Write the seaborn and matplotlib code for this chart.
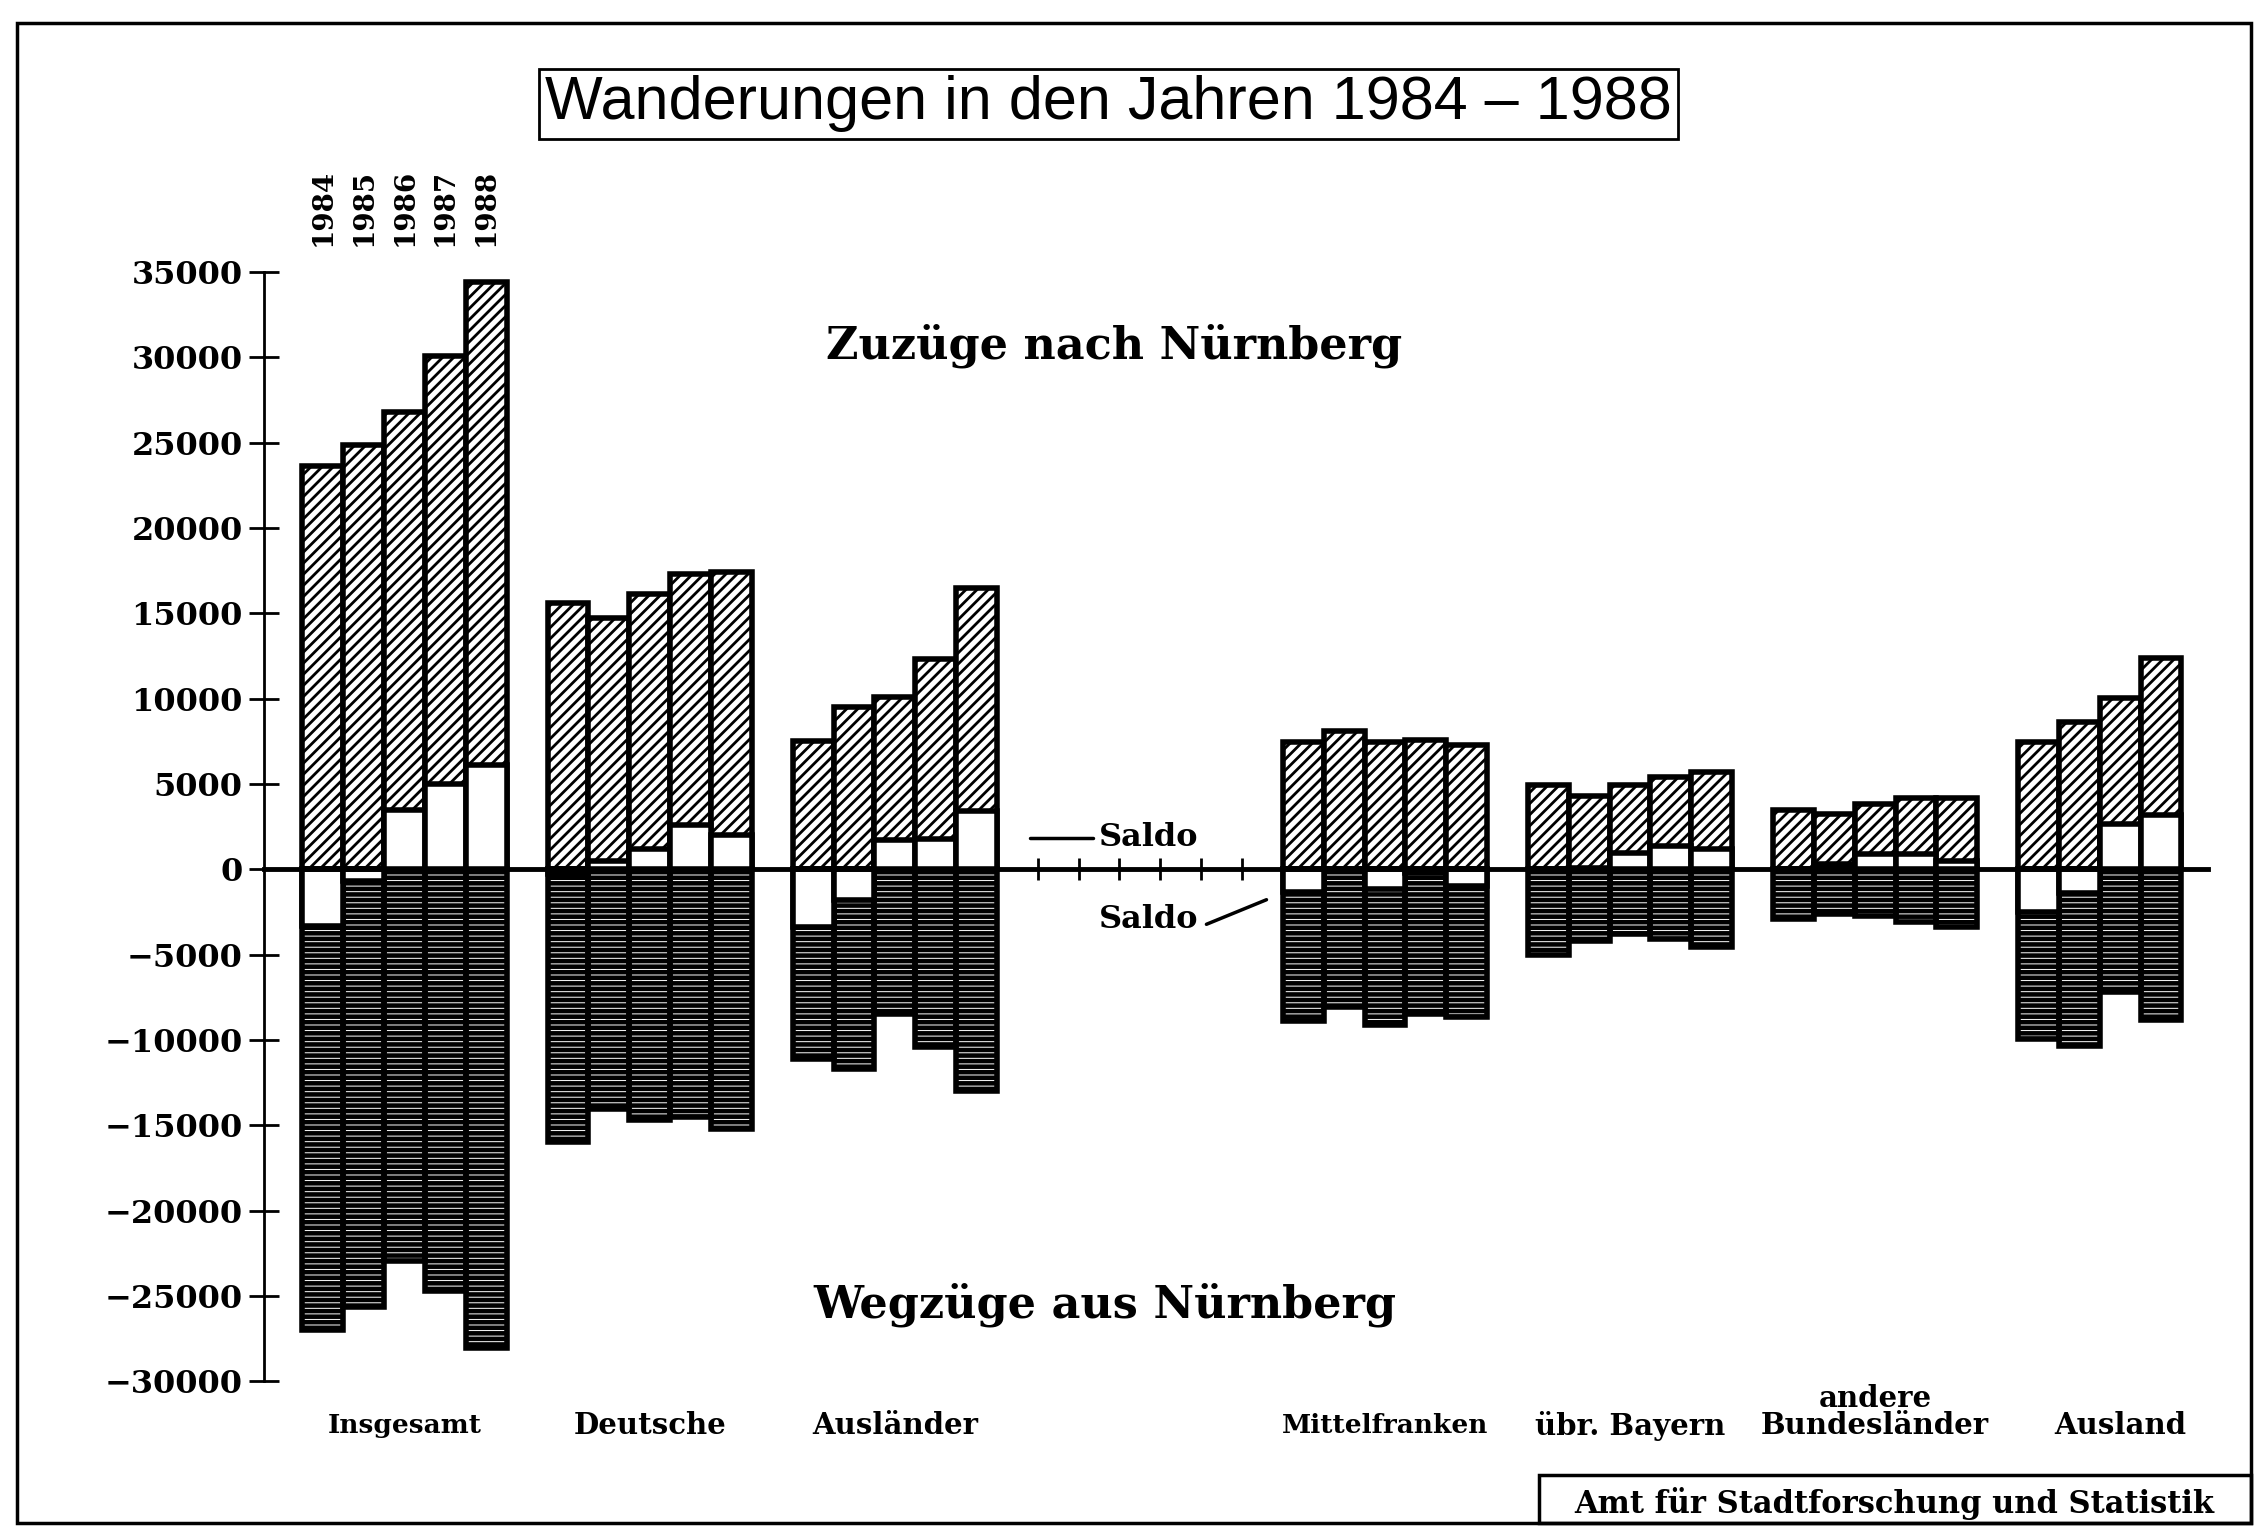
import numpy as np
import pandas as pd
import matplotlib
matplotlib.use("Agg")
import matplotlib.pyplot as plt
from matplotlib.patches import Rectangle
import seaborn as sns

years = ["1984", "1985", "1986", "1987", "1988"]
groups = ["Insgesamt", "Deutsche", "Ausländer", "Mittelfranken",
          "übr. Bayern", "Bundesländer", "Ausland"]

# Zuzüge nach Nürnberg, je Gruppe 1984..1988 (Ausland 1988 im Original abgeschnitten)
zuzuege = [
    [23600, 24850, 26800, 30100, 34400],
    [15600, 14750, 16100, 17300, 17400],
    [7500, 9500, 10100, 12300, 16500],
    [7450, 8100, 7450, 7600, 7300],
    [4950, 4300, 4950, 5400, 5700],
    [3450, 3250, 3850, 4200, 4200],
    [7450, 8650, 10050, 12400, np.nan],
]
# Wegzüge aus Nürnberg
wegzuege = [
    [27000, 25650, 22950, 24700, 28050],
    [16000, 14050, 14700, 14500, 15200],
    [11100, 11700, 8500, 10400, 13000],
    [8900, 8050, 9100, 8500, 8650],
    [5000, 4200, 3800, 4100, 4550],
    [2900, 2600, 2750, 3100, 3400],
    [9950, 10350, 7200, 8850, np.nan],
]
# Saldo (weisser Teil der Säulen)
saldo = [
    [-3300, -700, 3500, 5000, 6100],
    [-300, 500, 1200, 2600, 2000],
    [-3400, -1800, 1700, 1800, 3400],
    [-1300, 0, -1150, -200, -1000],
    [0, 100, 950, 1350, 1200],
    [0, 300, 900, 900, 500],
    [-2500, -1400, 2650, 3200, np.nan],
]

# slot where each group of five bars starts
group_start = [0, 6, 12, 24, 30, 36, 42]
label_size = [19, 21, 21, 19, 21, 21, 21]

rows = []
for g, start in enumerate(group_start):
    for i, yr in enumerate(years):
        rows.append({"pos": start + i, "group": groups[g], "year": yr,
                     "zu": zuzuege[g][i], "weg": -wegzuege[g][i], "saldo": saldo[g][i]})
df = pd.DataFrame(rows).dropna()

sns.set_style("white")
plt.rcParams["font.family"] = ["DejaVu Serif"]
plt.rcParams["font.weight"] = "bold"
for key in ["text.color", "axes.labelcolor", "xtick.color", "ytick.color", "axes.edgecolor"]:
    plt.rcParams[key] = "black"

fig = plt.figure(figsize=(22.63, 15.29), dpi=100)
ax = fig.add_axes([0.1167, 0.0965, 0.859, 0.7257])

common = dict(data=df, x="pos", native_scale=True, width=1, errorbar=None,
              saturation=1, ax=ax)
# Zuzüge: diagonal schraffiert
with plt.rc_context({"hatch.linewidth": 2.0}):
    sns.barplot(y="zu", color="white", edgecolor="black", linewidth=4, hatch="///", **common)
# Wegzüge: dunkel, fein horizontal schraffiert
with plt.rc_context({"hatch.linewidth": 0.7}):
    sns.barplot(y="weg", color="black", edgecolor="white", linewidth=0, hatch="---", **common)
sns.barplot(y="weg", fill=False, color="black", linewidth=4, **common)
# Saldo: weiss
sns.barplot(y="saldo", color="white", edgecolor="black", linewidth=4, **common)

ax.set_xlabel("")
ax.set_ylabel("")
ax.set_xlim(-1.44, 46.15)
ax.set_ylim(-30000, 35000)
ax.spines[["top", "right"]].set_visible(False)
ax.spines["bottom"].set_position(("data", 0))
ax.spines["bottom"].set_linewidth(3.5)
ax.spines["left"].set_linewidth(2)
ax.set_yticks(range(-30000, 35001, 5000))
ax.set_xticks([17.5 + i for i in range(6)])
ax.tick_params(axis="x", bottom=True, direction="inout", length=16, width=2,
               labelbottom=False)
ax.tick_params(axis="y", left=True, direction="inout", length=21, width=2, pad=5,
               labelsize=23)

# Jahreszahlen über der ersten Gruppe
for i, yr in enumerate(years):
    ax.text(i, 36500, yr, rotation=90, ha="center", va="bottom", fontsize=20,
            clip_on=False)

ax.text(19.36, 30660, "Zuzüge nach Nürnberg", ha="center", va="center", fontsize=32)
ax.text(19.15, -25500, "Wegzüge aus Nürnberg", ha="center", va="center", fontsize=32)

# Saldo-Hinweise
ax.plot([17.3, 18.85], [1860, 1860], color="black", lw=2.5, clip_on=False)
ax.text(19.0, 1860, "Saldo", ha="left", va="center", fontsize=23)
ax.text(19.0, -2960, "Saldo", ha="left", va="center", fontsize=23)
ax.plot([21.63, 23.1], [-3220, -1780], color="black", lw=2.5, clip_on=False)

# Gruppenbeschriftung
for g, start in enumerate(group_start):
    ax.text(start + 2, -32600, groups[g], ha="center", va="center",
            fontsize=label_size[g], clip_on=False)
ax.text(group_start[5] + 2, -31000, "andere", ha="center", va="center", fontsize=21,
        clip_on=False)

fig.text(0.490, 0.932, "Wanderungen in den Jahren 1984 – 1988",
         family=["Liberation Sans", "DejaVu Sans"], weight="normal",
         fontstretch="condensed", fontsize=44, ha="center", va="center",
         bbox=dict(boxstyle="square,pad=0.1", fc="white", ec="black", lw=2))

# Rahmen und Quellenkasten
fig.add_artist(Rectangle((0.0077, 0.004), 0.987, 0.981, transform=fig.transFigure,
                         fill=False, lw=2.5, color="black"))
fig.add_artist(Rectangle((0.680, 0.004), 0.3147, 0.031, transform=fig.transFigure,
                         fill=False, lw=2.5, color="black"))
fig.text(0.837, 0.017, "Amt für Stadtforschung und Statistik", ha="center",
         va="center", fontsize=22)

fig.savefig("out.png", dpi=100)
